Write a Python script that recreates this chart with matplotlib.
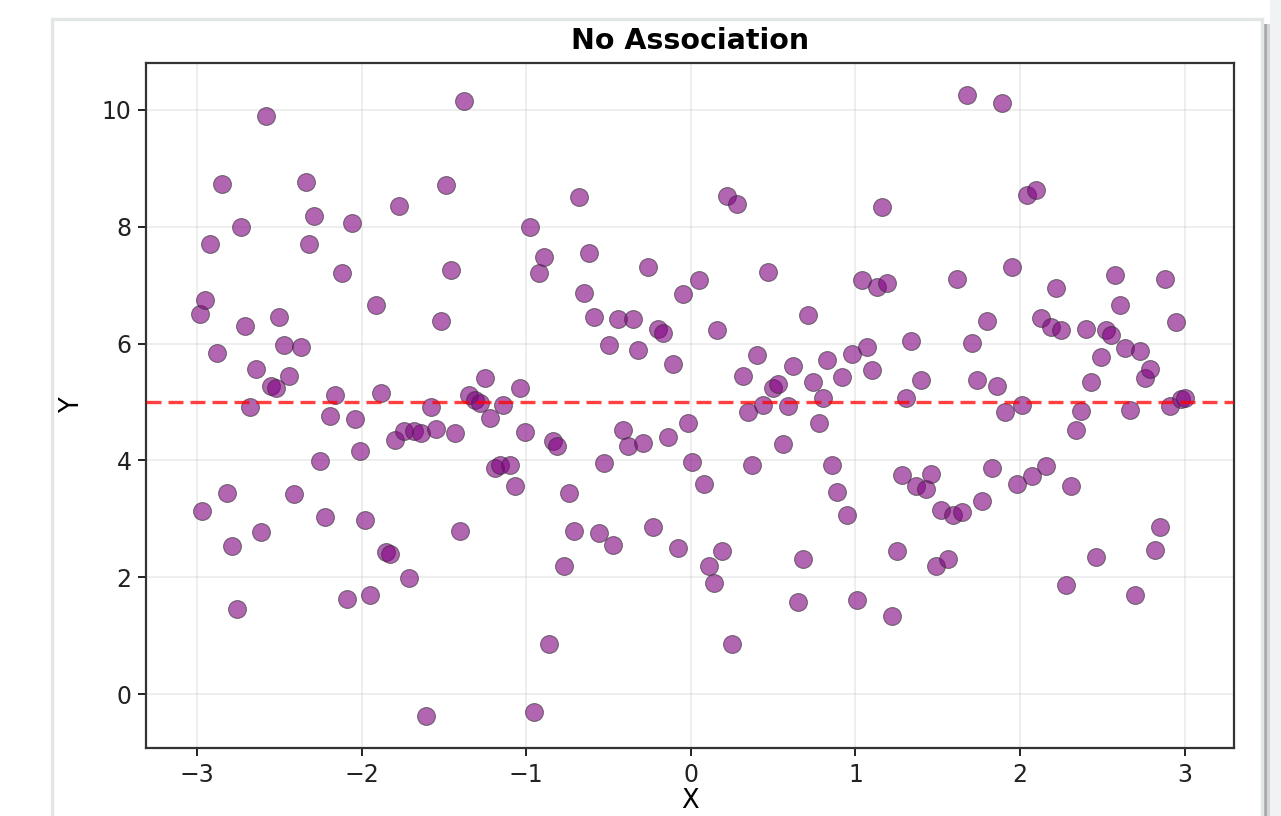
import matplotlib
matplotlib.use("Agg")
import matplotlib.pyplot as plt
from matplotlib.patches import Rectangle

# values
x_vals = [-2.98, -2.97, -2.95, -2.92, -2.88, -2.85, -2.82, -2.79, -2.76, -2.73,
          -2.71, -2.68, -2.64, -2.61, -2.58, -2.55, -2.52, -2.50, -2.47, -2.44,
          -2.41, -2.37, -2.34, -2.32, -2.29, -2.25, -2.22, -2.19, -2.16, -2.12,
          -2.09, -2.06, -2.04, -2.01, -1.98, -1.95, -1.91, -1.88, -1.85, -1.83,
          -1.80, -1.77, -1.74, -1.71, -1.68, -1.64, -1.61, -1.58, -1.55, -1.52,
          -1.49, -1.46, -1.43, -1.40, -1.38, -1.35, -1.31, -1.28, -1.25, -1.22,
          -1.19, -1.16, -1.14, -1.10, -1.07, -1.04, -1.01, -0.98, -0.95, -0.92,
          -0.89, -0.86, -0.84, -0.81, -0.77, -0.74, -0.71, -0.68, -0.65, -0.62,
          -0.59, -0.56, -0.53, -0.50, -0.47, -0.44, -0.41, -0.38, -0.35, -0.32,
          -0.29, -0.26, -0.23, -0.20, -0.17, -0.14, -0.11, -0.08, -0.05, -0.02,
          0.01, 0.05, 0.08, 0.11, 0.14, 0.16, 0.19, 0.22, 0.25, 0.28,
          0.32, 0.35, 0.37, 0.40, 0.44, 0.47, 0.50, 0.53, 0.56, 0.59,
          0.62, 0.65, 0.68, 0.71, 0.74, 0.78, 0.80, 0.83, 0.86, 0.89,
          0.92, 0.95, 0.98, 1.01, 1.04, 1.07, 1.10, 1.13, 1.16, 1.19,
          1.22, 1.25, 1.28, 1.31, 1.34, 1.37, 1.40, 1.43, 1.46, 1.49,
          1.52, 1.56, 1.59, 1.62, 1.65, 1.68, 1.71, 1.74, 1.77, 1.80,
          1.83, 1.86, 1.89, 1.91, 1.95, 1.98, 2.01, 2.04, 2.07, 2.10,
          2.13, 2.16, 2.19, 2.22, 2.25, 2.28, 2.31, 2.34, 2.37, 2.40,
          2.43, 2.46, 2.49, 2.52, 2.55, 2.58, 2.61, 2.64, 2.67, 2.70,
          2.73, 2.76, 2.79, 2.82, 2.85, 2.88, 2.91, 2.95, 2.98, 3.00]

y_vals = [6.51, 3.13, 6.75, 7.71, 5.84, 8.73, 3.44, 2.53, 1.46, 8.00,
          6.30, 4.91, 5.56, 2.77, 9.90, 5.27, 5.24, 6.46, 5.98, 5.45,
          3.42, 5.94, 8.77, 7.71, 8.18, 3.99, 3.03, 4.76, 5.12, 7.21,
          1.63, 8.07, 4.71, 4.16, 2.98, 1.70, 6.66, 5.15, 2.43, 2.40,
          4.35, 8.36, 4.50, 1.99, 4.50, 4.47, -0.38, 4.91, 4.54, 6.39,
          8.72, 7.26, 4.47, 2.79, 10.15, 5.12, 5.03, 4.98, 5.41, 4.73,
          3.87, 3.92, 4.95, 3.92, 3.56, 5.24, 4.49, 8.00, -0.31, 7.21,
          7.48, 0.86, 4.33, 4.25, 2.19, 3.44, 2.79, 8.51, 6.87, 7.55,
          6.46, 2.76, 3.96, 5.98, 2.55, 6.42, 4.52, 4.25, 6.42, 5.89,
          4.30, 7.31, 2.86, 6.25, 6.18, 4.40, 5.65, 2.50, 6.85, 4.64,
          3.97, 7.09, 3.60, 2.19, 1.90, 6.23, 2.45, 8.53, 0.86, 8.39,
          5.45, 4.83, 3.92, 5.80, 4.95, 7.23, 5.24, 5.31, 4.28, 4.93,
          5.62, 1.58, 2.31, 6.49, 5.34, 4.64, 5.07, 5.72, 3.92, 3.46,
          5.43, 3.07, 5.82, 1.61, 7.09, 5.94, 5.55, 6.97, 8.34, 7.04,
          1.34, 2.45, 3.75, 5.07, 6.04, 3.56, 5.38, 3.51, 3.77, 2.19,
          3.15, 2.31, 3.07, 7.11, 3.12, 10.26, 6.01, 5.38, 3.30, 6.39,
          3.87, 5.27, 10.12, 4.83, 7.31, 3.60, 4.95, 8.54, 3.73, 8.63,
          6.44, 3.90, 6.28, 6.95, 6.23, 1.87, 3.56, 4.52, 4.85, 6.25,
          5.34, 2.35, 5.77, 6.23, 6.15, 7.17, 6.66, 5.92, 4.86, 1.70,
          5.87, 5.41, 5.56, 2.47, 2.86, 7.11, 4.93, 6.37, 5.05, 5.07]

mean_line = 5
x_ticks = [-3, -2, -1, 0, 1, 2, 3]
y_ticks = [0, 2, 4, 6, 8, 10]

W, H = 1281, 816
fig = plt.figure(figsize=(W / 100, H / 100), dpi=100)
fig.patch.set_facecolor("white")

# screenshot card with a soft shadow on the right
fig.patches.append(Rectangle((1270 / W, 0), 11 / W, 1, transform=fig.transFigure,
                             facecolor="#f0f3f3", edgecolor="none", zorder=0))
for off, col in [(8, "#d5d7d7"), (5, "#a9abab"), (2, "#7d7f7f")]:
    fig.patches.append(Rectangle((1262 / W, 0), off / W, 1 - 24 / H,
                                 transform=fig.transFigure,
                                 facecolor=col, edgecolor="none", zorder=0))
fig.patches.append(Rectangle((52 / W, -0.05), (1262 - 52) / W, 1.05 - 19 / H,
                             transform=fig.transFigure, facecolor="white",
                             edgecolor="#e2e6e6", linewidth=2.5, zorder=0.5))

ax = fig.add_axes([146 / W, 1 - 748 / H, (1234 - 146) / W, (748 - 63) / H])
ax.set_zorder(2)

ax.scatter(x_vals, y_vals, s=165, color="purple", alpha=0.6,
           edgecolors="#333333", linewidths=0.8, zorder=3)
ax.axhline(mean_line, color="red", linestyle="--", dashes=(4.5, 2.1),
           linewidth=2.4, alpha=0.75, zorder=4)

ax.set_xlim(-3.31, 3.30)
ax.set_ylim(-0.92, 10.80)
ax.set_xticks(x_ticks)
ax.set_yticks(y_ticks)
ax.grid(True, color="#cccccc", alpha=0.4, linewidth=1.2)
ax.set_axisbelow(True)

for sp in ax.spines.values():
    sp.set_color("#333333")
    sp.set_linewidth(1.6)
ax.tick_params(labelsize=17, length=5.5, width=1.4, pad=5, colors="#222222")

ax.set_title("No Association", fontsize=20.5, fontweight="bold", pad=10)
ax.set_xlabel("X", fontsize=18.5, labelpad=1)
ax.set_ylabel("Y", fontsize=18.5, labelpad=12)

fig.savefig("out.png", dpi=100)
